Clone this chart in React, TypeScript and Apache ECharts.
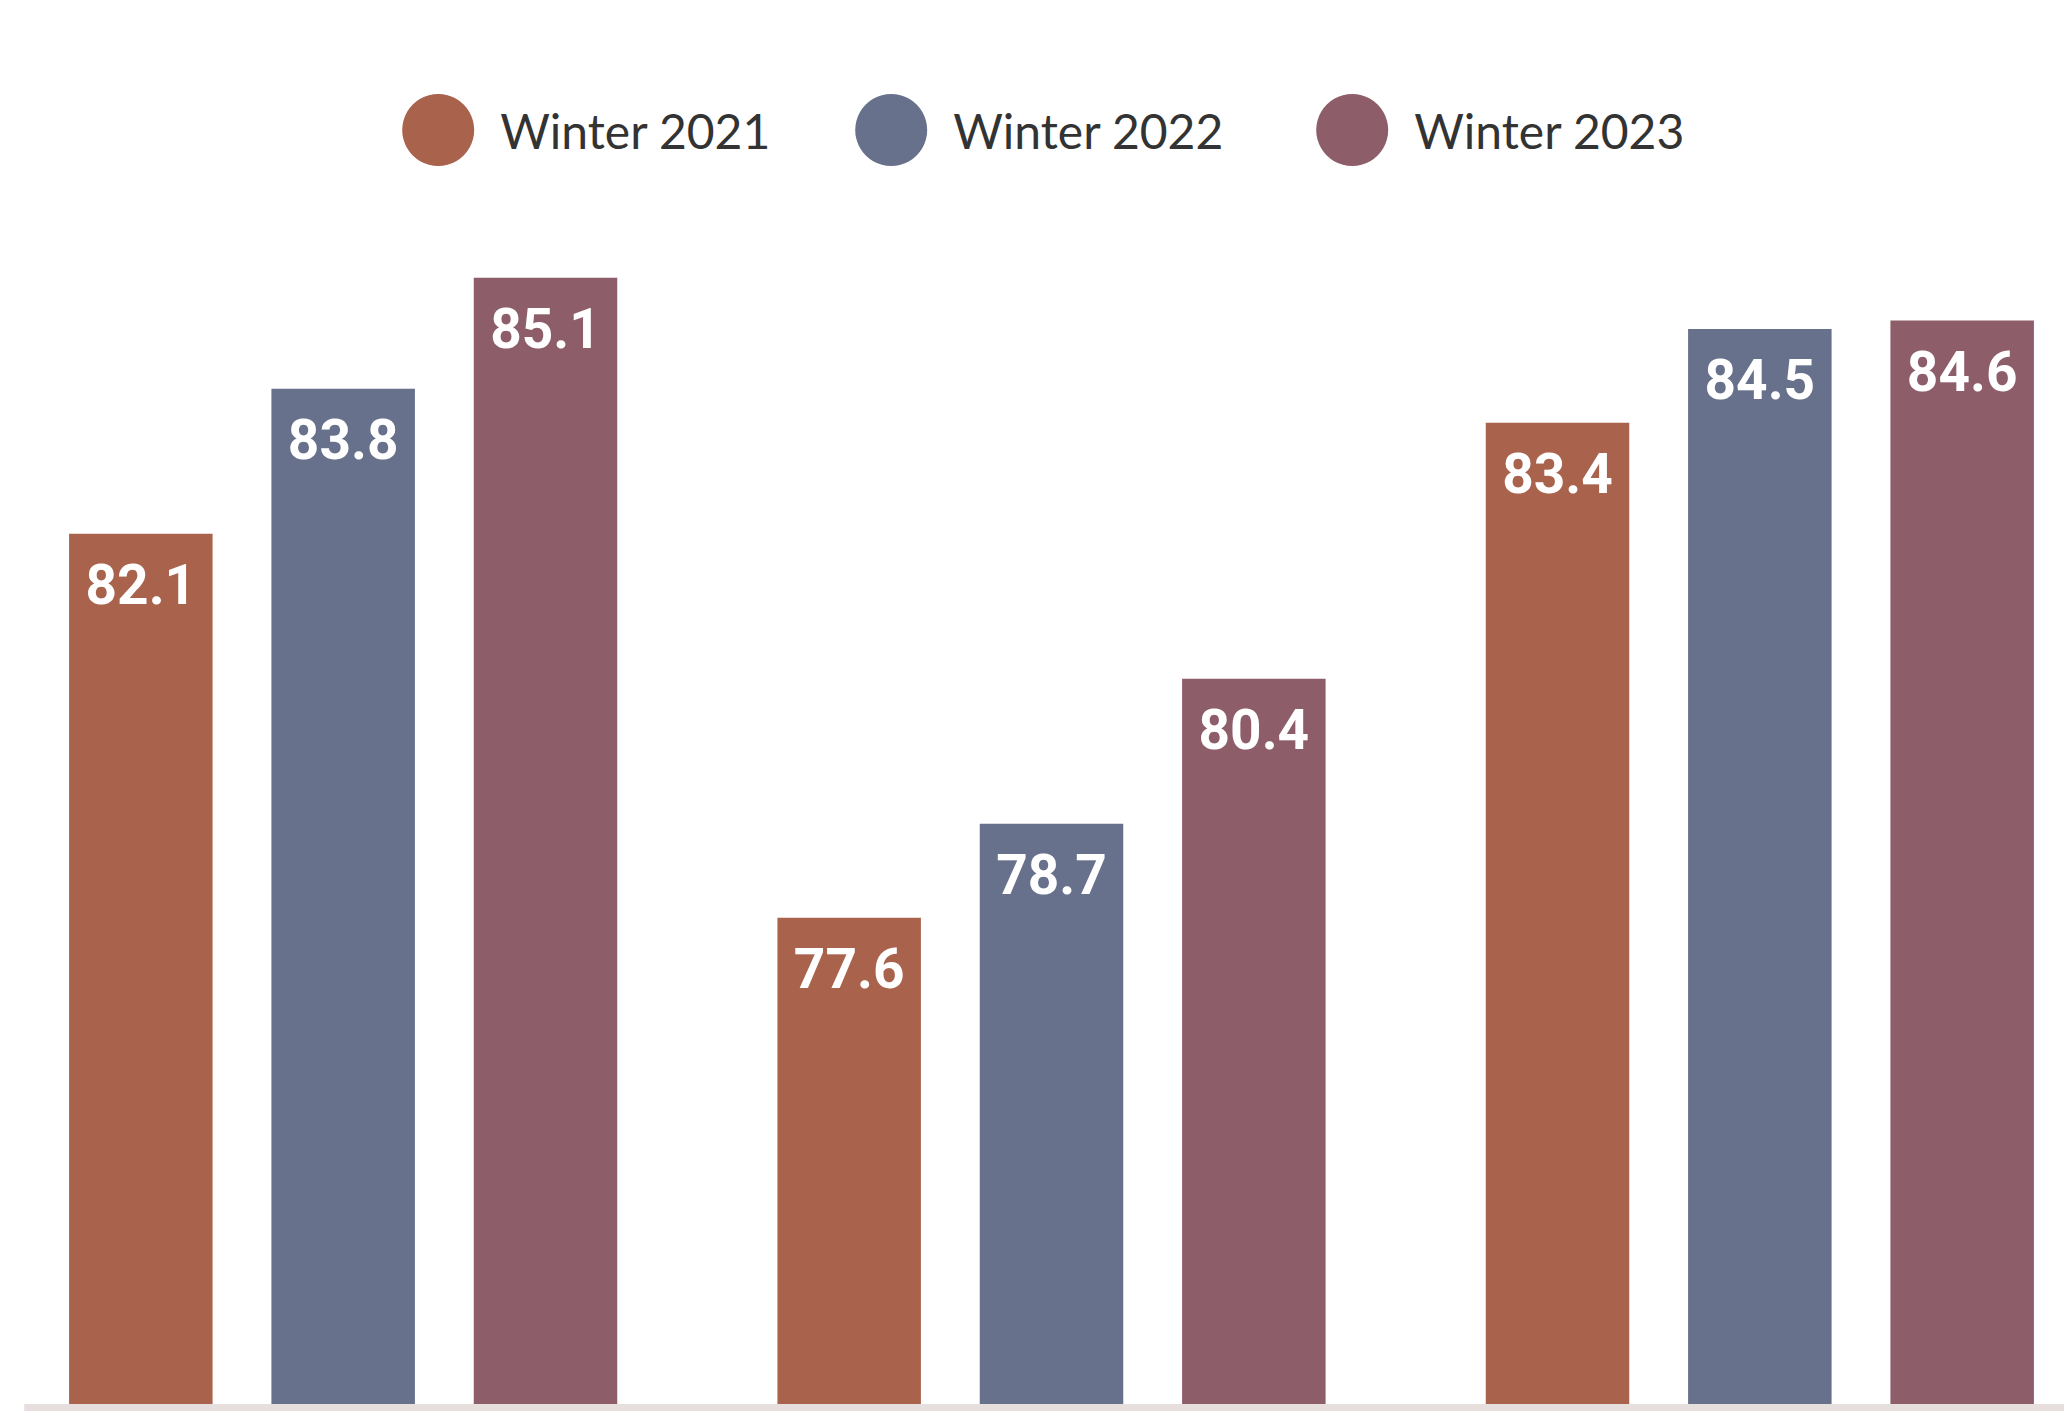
import React, { useEffect, useRef } from "react";
import * as echarts from "echarts";

const categories = ["Group A", "Group B", "Group C"];
const seriesNames = ["Winter 2021", "Winter 2022", "Winter 2023"];
const winter2021 = [82.1, 77.6, 83.4];
const winter2022 = [83.8, 78.7, 84.5];
const winter2023 = [85.1, 80.4, 84.6];
const seriesValues = [winter2021, winter2022, winter2023];
const colors = ["#a9634c", "#67718b", "#8e5d6a"];
const legendLefts = [397, 850, 1311];

const OFFSET = 11.2;
const CHART_W = 2125;

export default function App() {
  const ref = useRef<HTMLDivElement>(null);
  useEffect(() => {
    if (!ref.current) return;
    const chart = echarts.init(ref.current, null, { renderer: "svg" });
    chart.setOption({
      animation: false,
      backgroundColor: "#ffffff",
      legend: seriesNames.map((name, i) => ({
        left: legendLefts[i] + OFFSET,
        top: 89,
        icon: "circle",
        itemWidth: 72,
        itemHeight: 72,
        data: [name],
        textStyle: {
          fontFamily: "Lato",
          fontSize: 48,
          color: "#333333",
          padding: [0, 0, 0, 21],
        },
      })),
      grid: { left: 0, right: 0, top: 201, bottom: 7, containLabel: false },
      xAxis: {
        type: "category",
        data: categories,
        axisLine: { show: false },
        axisTick: { show: false },
        axisLabel: { show: false },
        splitLine: { show: false },
      },
      yAxis: {
        type: "value",
        min: 71.9,
        max: 86,
        show: false,
        splitLine: { show: false },
      },
      graphic: [
        {
          type: "rect",
          shape: { x: 24 + OFFSET, y: 1404, width: 2040, height: 7 },
          style: { fill: "#e6dfdd" },
          z: 100,
        },
      ],
      series: seriesNames.map((name, i) => ({
        name,
        type: "bar",
        data: seriesValues[i],
        barWidth: 143.5,
        barGap: "41%",
        itemStyle: { color: colors[i] },
        label: {
          show: true,
          position: "insideTop",
          distance: 24,
          color: "#ffffff",
          fontFamily: "Roboto, sans-serif",
          fontWeight: "bold",
          fontSize: 55,
          formatter: (p: any) => p.value.toFixed(1),
        },
      })),
    });
    return () => chart.dispose();
  }, []);
  return (
    <div
      ref={ref}
      style={{ position: "fixed", left: -OFFSET, top: 0, width: CHART_W, height: 1411 }}
    />
  );
}
